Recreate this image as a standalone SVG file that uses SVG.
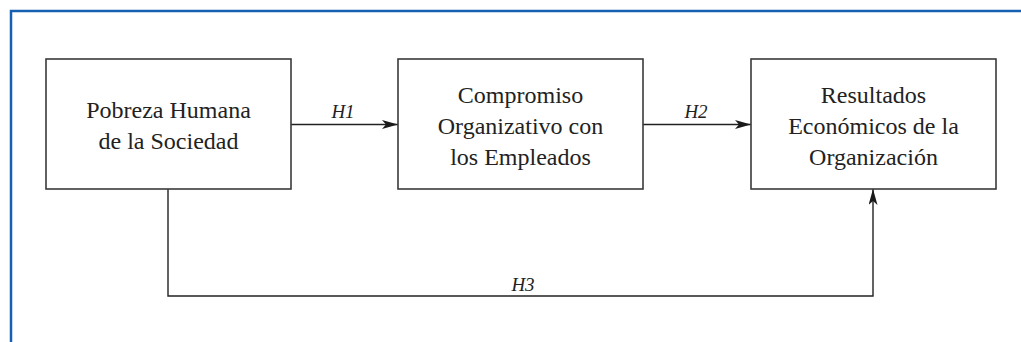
<svg xmlns="http://www.w3.org/2000/svg" width="1021" height="342" viewBox="0 0 1021 342">
<style>
.frame{stroke:#1560b0;stroke-width:2.5;fill:none}
.box{fill:#fff;stroke:#3a3a3a;stroke-width:1.6}
.lbl{font-family:"Liberation Serif",serif;font-size:24px;fill:#222;text-anchor:middle}
.h{font-family:"Liberation Serif",serif;font-size:19px;font-style:italic;fill:#222;text-anchor:middle}
.conn{stroke:#222;stroke-width:1.4;fill:none}
</style>
<defs>
<marker id="arr" viewBox="0 0 16 9" refX="16" refY="4.5" markerWidth="16" markerHeight="9" markerUnits="userSpaceOnUse" orient="auto">
<path d="M0,0 L16,4.5 L0,9 L4,4.5 z" fill="#1a1a1a"/>
</marker>
</defs>
<rect width="1021" height="342" fill="#fff"/>
<path class="frame" d="M11,342 V11 H1021"/>
<g id="connectors">
<line class="conn" x1="291" y1="124.5" x2="398" y2="124.5" marker-end="url(#arr)"/>
<line class="conn" x1="643" y1="124.5" x2="751" y2="124.5" marker-end="url(#arr)"/>
<path class="conn" d="M168,189 V296 H873 V189" marker-end="url(#arr)"/>
<text class="h" x="343" y="118">H1</text>
<text class="h" x="696" y="118">H2</text>
<text class="h" x="523" y="291">H3</text>
</g>
<g id="node1">
<rect class="box" x="46" y="59" width="245" height="130"/>
<text class="lbl" x="168.5" y="118">Pobreza Humana</text>
<text class="lbl" x="168.5" y="149">de la Sociedad</text>
</g>
<g id="node2">
<rect class="box" x="398" y="59" width="245" height="130"/>
<text class="lbl" x="520.5" y="103">Compromiso</text>
<text class="lbl" x="520.5" y="134">Organizativo con</text>
<text class="lbl" x="520.5" y="165">los Empleados</text>
</g>
<g id="node3">
<rect class="box" x="751" y="59" width="245" height="130"/>
<text class="lbl" x="873.5" y="103">Resultados</text>
<text class="lbl" x="873.5" y="134">Económicos de la</text>
<text class="lbl" x="873.5" y="165">Organización</text>
</g>
</svg>
